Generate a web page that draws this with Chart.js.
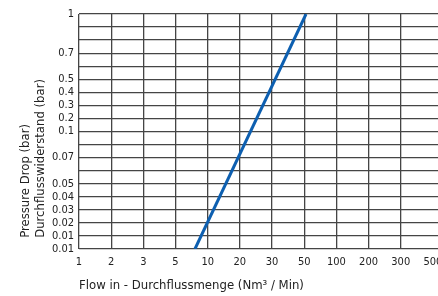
<!DOCTYPE html>
<html>
<head>
<meta charset="utf-8">
<script src="https://cdn.jsdelivr.net/npm/chart.js@4"></script>
<style>
  html, body { margin: 0; padding: 0; background: #fff; overflow: hidden; }
  #wrap { width: 452px; height: 296px; }
</style>
</head>
<body>
<div id="wrap"><canvas id="chart"></canvas></div>
<script>
// tick labels along the axes (one grid line each)
const xTicks = ['1', '2', '3', '5', '10', '20', '30', '50', '100', '200', '300', '500'];
const xStops = [1, 2, 3, 5, 10, 20, 30, 50, 100, 200, 300, 500];
// y grid lines, bottom to top; labels as printed on the chart
const yStops = [0.01, 0.015, 0.02, 0.03, 0.04, 0.05, 0.06, 0.07, 0.08, 0.1, 0.2, 0.3, 0.4, 0.5, 0.6, 0.7, 0.8, 0.9, 1];
const yTickLabels = ['0.01', '0.01', '0.02', '0.03', '0.04', '0.05', '', '0.07', '', '0.1', '0.2', '0.3', '0.4', '0.5', '', '0.7', '', '', '1'];

// pressure drop curve
const flow = [7.6, 52];
const pressure = [0.01, 1];

// position of a value between the grid lines (log between neighbours)
function toIndex(v, stops) {
    for (let i = 0; i < stops.length - 1; i++) {
        if (v <= stops[i + 1]) {
            return i + Math.log(v / stops[i]) / Math.log(stops[i + 1] / stops[i]);
        }
    }
    return stops.length - 1;
}

const points = flow.map((f, i) => ({ x: toIndex(f, xStops), y: toIndex(pressure[i], yStops) }));

const font = "'Liberation Sans Narrow', 'Arial Narrow', 'DejaVu Sans Condensed', sans-serif";
const gridColor = '#454545';

new Chart(document.getElementById('chart'), {
    type: 'line',
    data: {
        datasets: [{
            data: points,
            borderColor: '#0d5fb0',
            borderWidth: 3,
            pointRadius: 0,
            fill: false
        }]
    },
    options: {
        responsive: true,
        maintainAspectRatio: false,
        animation: false,
        layout: { padding: { top: 14, right: 3, left: 0, bottom: 0 } },
        plugins: { legend: { display: false }, tooltip: { enabled: false } },
        scales: {
            x: {
                type: 'linear',
                min: 0,
                max: 11.5,
                afterBuildTicks: function(scale) {
                    scale.ticks = xTicks.map((t, i) => ({ value: i }));
                },
                afterFit: function(scale) { scale.height = 47; },
                border: { display: false },
                grid: {
                    drawTicks: false,
                    lineWidth: 1.3,
                    color: function(ctx) {
                        return ctx.tick && ctx.tick.value === xTicks.length - 1 ? 'rgba(0,0,0,0)' : gridColor;
                    }
                },
                ticks: {
                    autoSkip: false,
                    maxRotation: 0,
                    padding: 7,
                    color: '#222',
                    font: { family: font, size: 11 },
                    callback: function(value) { return xTicks[value]; }
                },
                title: {
                    display: true,
                    text: 'Flow in - Durchflussmenge (Nm³ / Min)',
                    align: 'start',
                    color: '#222',
                    font: { family: font, size: 13 },
                    padding: { top: 0, bottom: 3 }
                }
            },
            y: {
                type: 'linear',
                min: 0,
                max: yStops.length - 1,
                afterBuildTicks: function(scale) {
                    scale.ticks = yStops.map((t, i) => ({ value: i }));
                },
                afterFit: function(scale) { scale.width = 79; },
                border: { display: false },
                grid: { drawTicks: false, lineWidth: 1.3, color: gridColor },
                ticks: {
                    autoSkip: false,
                    padding: 5,
                    color: '#222',
                    font: { family: font, size: 11 },
                    callback: function(value) { return yTickLabels[value]; }
                },
                title: {
                    display: true,
                    // leading spaces lift the start of the text a little off the bottom
                    text: ['   Pressure Drop (bar)', '   Durchflusswiderstand (bar)'],
                    align: 'start',
                    color: '#222',
                    font: { family: font, size: 13, lineHeight: 1.15 },
                    padding: { top: 18, bottom: 0 }
                }
            }
        }
    }
});
</script>
</body>
</html>
